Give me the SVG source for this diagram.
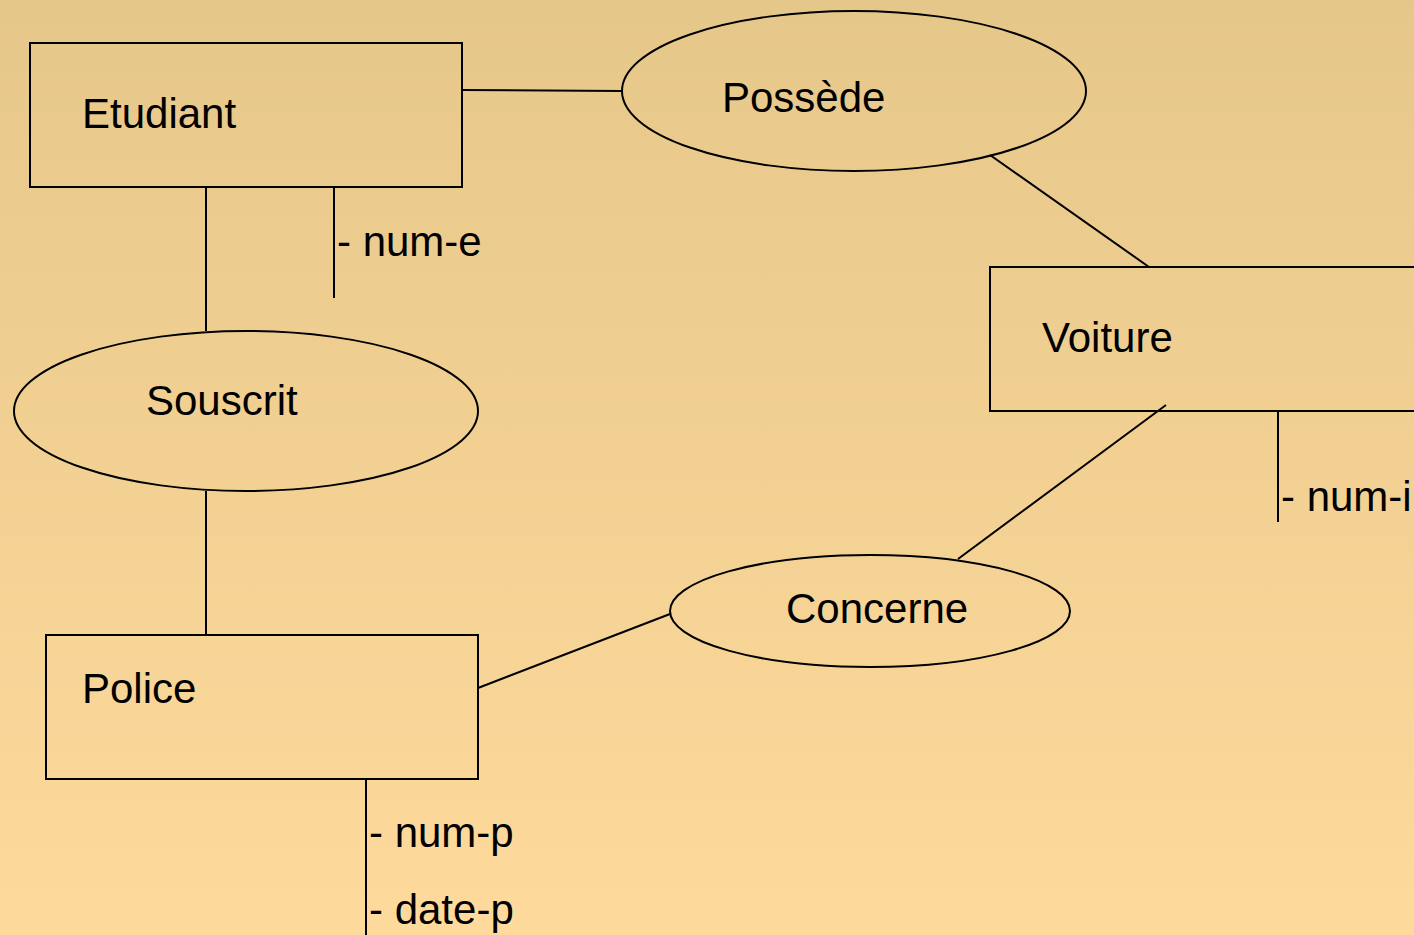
<svg xmlns="http://www.w3.org/2000/svg" width="1414" height="935" viewBox="0 0 1414 935">
<defs>
<linearGradient id="bg" x1="0" y1="0" x2="0" y2="1">
<stop offset="0" stop-color="#E6C78A"/>
<stop offset="1" stop-color="#FEDA9C"/>
</linearGradient>
<style>
.s{fill:none;stroke:#000;stroke-width:2}
.t{font-family:"Liberation Sans",Arial,sans-serif;font-size:42px;fill:#000}
</style>
</defs>
<rect x="0" y="0" width="1414" height="935" fill="url(#bg)"/>
<g id="connectors">
<line class="s" x1="462" y1="90" x2="622" y2="91"/>
<line class="s" x1="990" y1="155" x2="1149" y2="267"/>
<line class="s" x1="206" y1="187" x2="206" y2="331"/>
<line class="s" x1="206" y1="491" x2="206" y2="635"/>
<line class="s" x1="478" y1="688" x2="670" y2="614"/>
<line class="s" x1="958" y1="559" x2="1166" y2="405"/>
</g>
<g id="etudiant">
<rect class="s" x="30" y="43" width="432" height="144"/>
<text class="t" x="82" y="128">Etudiant</text>
<line class="s" x1="334" y1="187" x2="334" y2="298"/>
<text class="t" x="337" y="256">- num-e</text>
</g>
<g id="possede">
<ellipse class="s" cx="854" cy="91" rx="232" ry="80"/>
<text class="t" x="722" y="112">Possède</text>
</g>
<g id="voiture">
<rect class="s" x="990" y="267" width="440" height="144"/>
<text class="t" x="1042" y="352">Voiture</text>
<line class="s" x1="1278" y1="411" x2="1278" y2="522"/>
<text class="t" x="1281" y="511">- num-i</text>
</g>
<g id="souscrit">
<ellipse class="s" cx="246" cy="411" rx="232" ry="80"/>
<text class="t" x="146" y="415">Souscrit</text>
</g>
<g id="police">
<rect class="s" x="46" y="635" width="432" height="144"/>
<text class="t" x="82" y="703">Police</text>
<line class="s" x1="366" y1="779" x2="366" y2="940"/>
<text class="t" x="369" y="847">- num-p</text>
<text class="t" x="369" y="924">- date-p</text>
</g>
<g id="concerne">
<ellipse class="s" cx="870" cy="611" rx="200" ry="56"/>
<text class="t" x="786" y="623">Concerne</text>
</g>
</svg>
